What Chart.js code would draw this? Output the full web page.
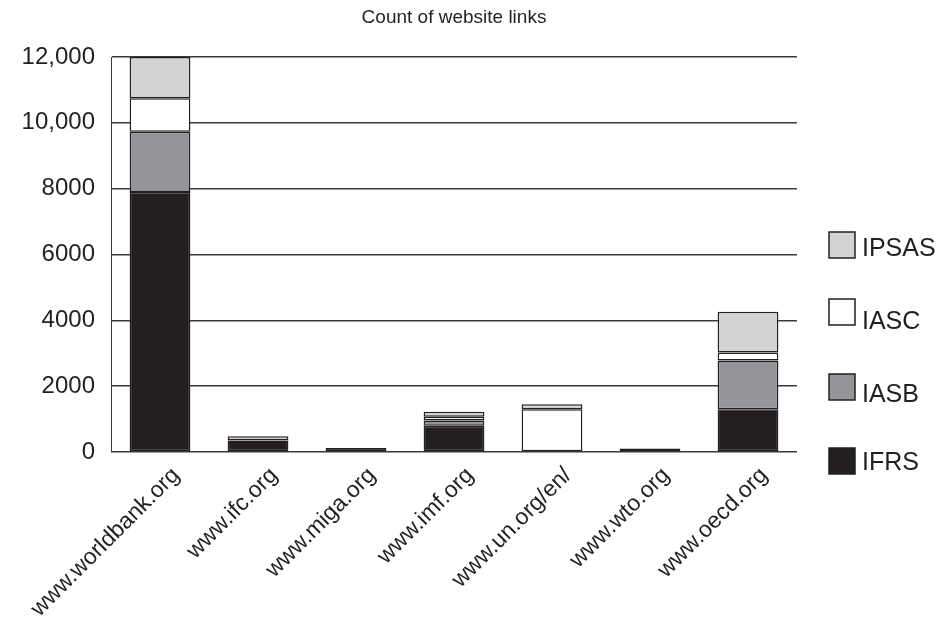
<!DOCTYPE html>
<html>
<head>
<meta charset="utf-8">
<script src="https://cdn.jsdelivr.net/npm/chart.js@4/dist/chart.umd.min.js"></script>
<style>
  html, body { margin: 0; padding: 0; background: #fff; }
  #wrap { width: 943px; height: 638px; }
</style>
</head>
<body>
<div id="wrap"><canvas id="grafico"></canvas></div>
<script>
// categorias (sites)
const sites = ['www.worldbank.org', 'www.ifc.org', 'www.miga.org', 'www.imf.org', 'www.un.org/en/', 'www.wto.org', 'www.oecd.org'];

// valores por serie
const ifrsValues  = [7900, 350, 120, 800, 0, 110, 1300];
const iasbValues  = [1830, 0, 0, 160, 0, 0, 1480];
const iascValues  = [1015, 0, 0, 110, 1300, 0, 240];
const ipsasValues = [1255, 130, 0, 150, 150, 0, 1240];

const yTicks = [0, 2000, 4000, 6000, 8000, 10000, 12000];
const titulo = 'Count of website links';

// cores
const corIFRS  = '#231f20';
const corIASB  = '#939598';
const corIASC  = '#ffffff';
const corIPSAS = '#d1d3d4';
const corBorda = '#231f20';

const fonte = "'Liberation Sans', Arial, sans-serif";

const serie = (label, data, cor) => ({
    label: label,
    data: data,
    backgroundColor: cor,
    borderColor: corBorda,
    borderWidth: 1.5,
    borderSkipped: false
});

// legenda e titulo desenhados a mao (IPSAS em cima)
const legendaCaixaTopo = [232, 299, 374, 448];
const legendaTextoY = [249, 322, 395, 463];

const extras = {
    id: 'extras',
    afterDraw: (chart) => {
        const ctx = chart.ctx;
        const area = chart.chartArea;
        ctx.save();
        ctx.fillStyle = '#231f20';
        ctx.font = '19px ' + fonte;
        ctx.textAlign = 'center';
        ctx.textBaseline = 'middle';
        ctx.fillText(titulo, (area.left + area.right) / 2, 18);

        const ds = chart.data.datasets.slice().reverse();
        ctx.font = '25px ' + fonte;
        ctx.textAlign = 'left';
        ds.forEach((d, i) => {
            const top = legendaCaixaTopo[i];
            ctx.fillStyle = d.backgroundColor;
            ctx.fillRect(829, top, 26, 26);
            ctx.lineWidth = 1.5;
            ctx.strokeStyle = corBorda;
            ctx.strokeRect(829, top, 26, 26);
            ctx.fillStyle = '#231f20';
            ctx.fillText(d.label, 862, legendaTextoY[i]);
        });
        ctx.restore();
    }
};

const config = {
    type: 'bar',
    data: {
        labels: sites,
        datasets: [
            serie('IFRS', ifrsValues, corIFRS),
            serie('IASB', iasbValues, corIASB),
            serie('IASC', iascValues, corIASC),
            serie('IPSAS', ipsasValues, corIPSAS)
        ]
    },
    options: {
        responsive: true,
        maintainAspectRatio: false,
        animation: false,
        layout: { padding: { top: 57, right: 146, left: 0, bottom: 0 } },
        plugins: {
            legend: { display: false },
            title: { display: false },
            tooltip: { enabled: false }
        },
        datasets: { bar: { barPercentage: 0.62, categoryPercentage: 1 } },
        scales: {
            x: {
                stacked: true,
                grid: { display: false },
                border: { display: false },
                ticks: {
                    color: '#231f20',
                    font: { family: fonte, size: 23 },
                    maxRotation: 45,
                    minRotation: 45,
                    autoSkip: false,
                    padding: 2,
                    labelOffset: 16
                },
                afterFit: (s) => { s.height = 186; }
            },
            y: {
                stacked: true,
                min: 0,
                max: 12000,
                afterBuildTicks: (s) => { s.ticks = yTicks.map(v => ({ value: v })); },
                grid: { color: '#3a3a3a', lineWidth: 1.5, drawTicks: false },
                border: { display: true, color: '#3a3a3a', width: 1 },
                ticks: {
                    color: '#231f20',
                    font: { family: fonte, size: 24 },
                    padding: 16,
                    callback: (v) => v >= 10000 ? v.toLocaleString('en-US') : String(v)
                },
                afterFit: (s) => { s.width = 111; }
            }
        }
    },
    plugins: [extras]
};

new Chart(document.getElementById('grafico'), config);
</script>
</body>
</html>
